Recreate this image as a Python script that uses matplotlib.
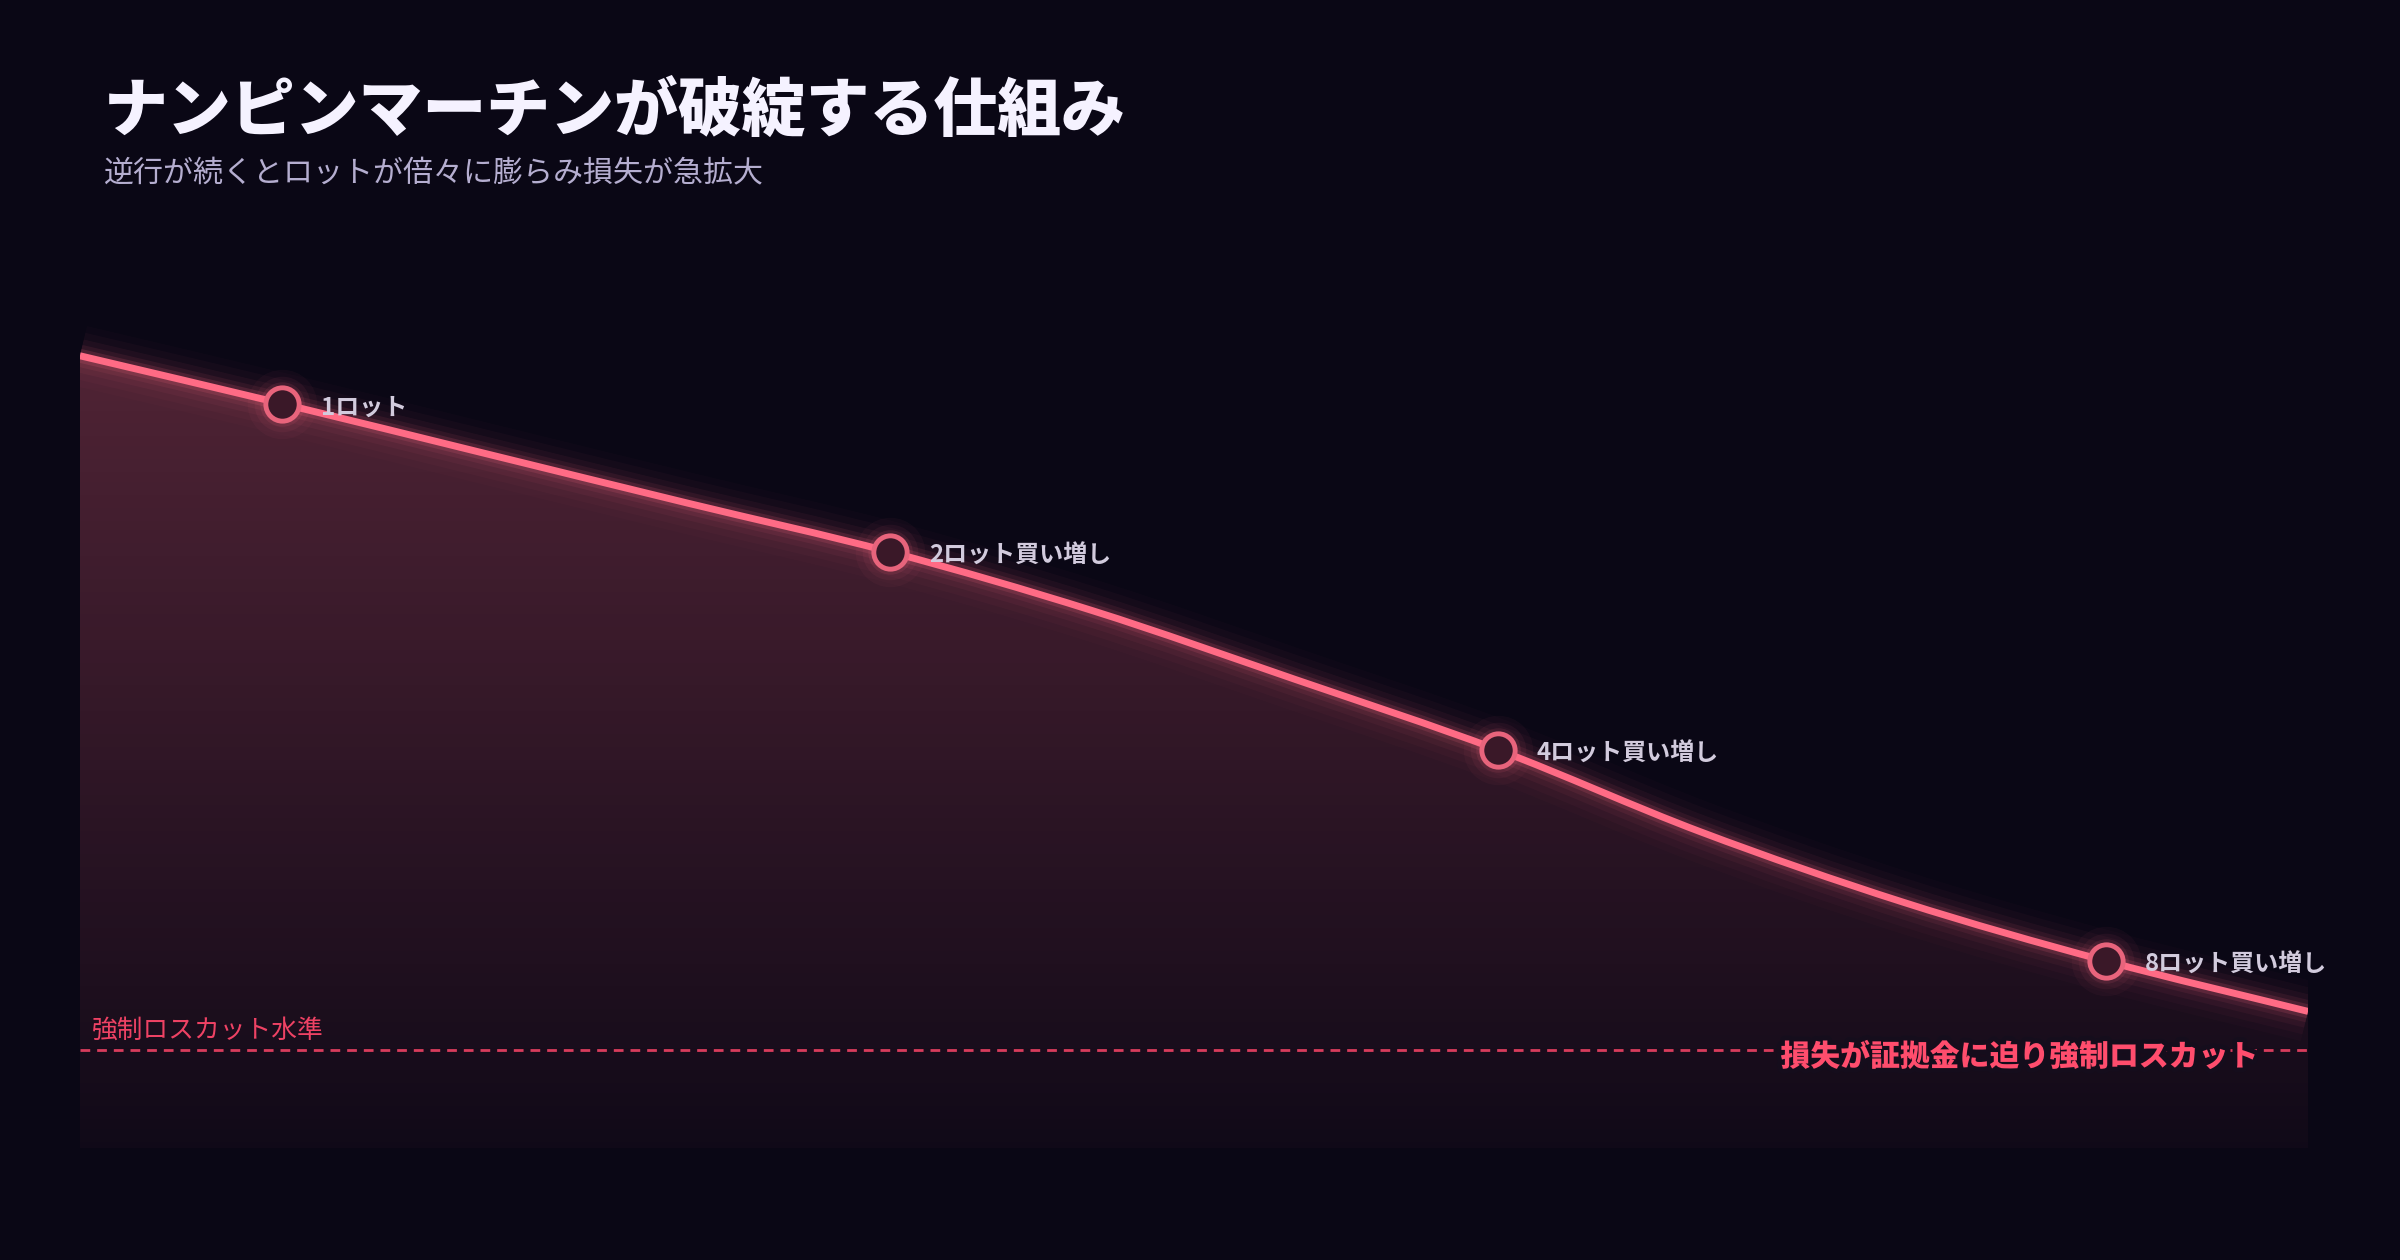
import numpy as np
import matplotlib
matplotlib.use("Agg")
import matplotlib.pyplot as plt
import matplotlib.patheffects as pe
from matplotlib.path import Path
from matplotlib.patches import PathPatch

plt.rcParams['font.family'] = ['Noto Sans CJK JP', 'DejaVu Sans']

# data (x = time step, y = account equity, 0-100 scale)
steps = [0, 1, 2, 3, 4, 5, 6, 7, 8, 9, 10, 11]
equity = [95.7, 89.9, 83.9, 77.9, 72.0, 64.9, 56.6, 48.1, 38.2, 29.7, 22.6, 16.5]
lot_steps = [1, 4, 7, 10]
lot_labels = ["1ロット", "2ロット買い増し", "4ロット買い増し", "8ロット買い増し"]
stop_level = 11.8
stop_label = "強制ロスカット水準"
stop_note = "損失が証拠金に迫り強制ロスカット"
title = "ナンピンマーチンが破綻する仕組み"
subtitle = "逆行が続くとロットが倍々に膨らみ損失が急拡大"

bg = '#0a0715'
pink = '#ff6b85'
red = '#ee4264'


def smooth_path(xs, ys):
    # cubic bezier through the points (catmull-rom style tangents)
    n = len(xs)
    t = []
    for i in range(n):
        if i == 0:
            t.append((ys[1] - ys[0]) / (xs[1] - xs[0]))
        elif i == n - 1:
            t.append((ys[-1] - ys[-2]) / (xs[-1] - xs[-2]))
        else:
            t.append((ys[i + 1] - ys[i - 1]) / (xs[i + 1] - xs[i - 1]))
    verts = [(xs[0], ys[0])]
    codes = [Path.MOVETO]
    for i in range(n - 1):
        d = (xs[i + 1] - xs[i]) / 3
        verts += [(xs[i] + d, ys[i] + t[i] * d),
                  (xs[i + 1] - d, ys[i + 1] - t[i + 1] * d),
                  (xs[i + 1], ys[i + 1])]
        codes += [Path.CURVE4] * 3
    return verts, codes


fig = plt.figure(figsize=(24, 12.6), dpi=100, facecolor=bg)
ax = fig.add_axes([0.0333, 0.0889, 0.9284, 0.657])
ax.set_facecolor(bg)
ax.set_xlim(0, 11)
ax.set_ylim(0, 100)
ax.axis('off')

verts, codes = smooth_path(steps, equity)
line_path = Path(verts, codes)
area_path = Path(verts + [(steps[-1], 0), (steps[0], 0), (steps[0], equity[0])],
                 codes + [Path.LINETO, Path.LINETO, Path.CLOSEPOLY])

# gradient fill under the curve
area = PathPatch(area_path, facecolor='none', edgecolor='none', transform=ax.transData)
ax.add_patch(area)
grad = np.zeros((256, 2, 4))
grad[:, :, 0] = 1.0
grad[:, :, 1] = 107 / 255
grad[:, :, 2] = 133 / 255
alpha = np.linspace(0.30, 0.03, 256)
grad[:, :, 3] = alpha[:, None]
img = ax.imshow(grad, extent=[0, 11, 0, 100], aspect='auto', origin='upper', zorder=1)
img.set_clip_path(area)

# glow + line
for lw, a in [(44, 0.02), (34, 0.03), (24, 0.05), (16, 0.08), (10, 0.14)]:
    ax.add_patch(PathPatch(line_path, facecolor='none', edgecolor=pink, lw=lw,
                           alpha=a, capstyle='butt', zorder=2))
ax.add_patch(PathPatch(line_path, facecolor='none', edgecolor=pink, lw=5,
                       capstyle='butt', zorder=3))

# stop-out level
ax.axhline(stop_level, color=red, lw=2, dashes=(3.5, 2.5), alpha=0.9, zorder=2)
ax.text(0.06, stop_level + 0.85, stop_label, color=red, fontsize=18.5,
        va='bottom', ha='left', zorder=4)
ax.text(10.755, stop_level - 0.75, stop_note, color='#ff4d6d', fontsize=21.5,
        fontweight='heavy', va='center', ha='right', zorder=4,
        path_effects=[pe.withStroke(linewidth=7, foreground='#150d1c')])

# markers and labels
lot_y = [equity[steps.index(s)] for s in lot_steps]
for ms, a in [(50, 0.04), (40, 0.06), (32, 0.1)]:
    ax.plot(lot_steps, lot_y, 'o', ms=ms, color=pink, alpha=a, mec='none', zorder=4)
ax.plot(lot_steps, lot_y, 'o', ms=24, mfc='#3a1828', mec='#e8647c', mew=3.5, zorder=5)
for sx, sy, lab in zip(lot_steps, lot_y, lot_labels):
    ax.annotate(lab, (sx, sy), xytext=(28, -3), textcoords='offset points',
                color='#d2cbdd', fontsize=17.3, fontweight='bold',
                va='center', ha='left', zorder=6)

fig.text(0.0433, 0.911, title, color='#f5f2ff', fontsize=46, fontweight='heavy',
         va='center', ha='left')
fig.text(0.0429, 0.862, subtitle, color='#b5aed0', fontsize=21.6, va='center', ha='left')

fig.savefig('out.png', dpi=100, facecolor=bg)
